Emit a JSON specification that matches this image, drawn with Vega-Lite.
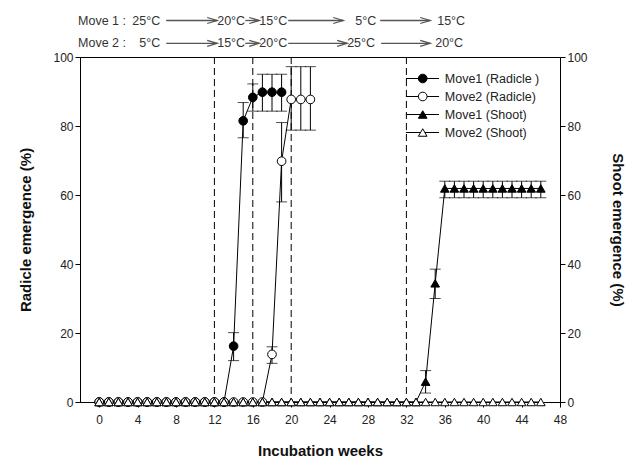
{
  "$schema": "https://vega.github.io/schema/vega-lite/v6.json",
  "width": 480,
  "height": 345,
  "autosize": {"type": "none"},
  "padding": {"left": 80, "top": 57, "right": 73, "bottom": 56},
  "background": "white",
  "config": {
    "view": {"stroke": "black", "strokeWidth": 1},
    "font": "Liberation Sans",
    "axis": {
      "domainColor": "black", "tickColor": "black", "labelColor": "#222",
      "labelFont": "Liberation Sans", "labelFontSize": 12,
      "titleFont": "Liberation Sans", "titleFontSize": 15, "titleFontWeight": "bold",
      "titleColor": "#111", "grid": false, "tickSize": 5, "labelOverlap": false
    }
  },
  "datasets": {
    "pts": [
      {"s":"Move1 (Radicle )","w":0,"v":0},{"s":"Move1 (Radicle )","w":1,"v":0},{"s":"Move1 (Radicle )","w":2,"v":0},{"s":"Move1 (Radicle )","w":3,"v":0},{"s":"Move1 (Radicle )","w":4,"v":0},{"s":"Move1 (Radicle )","w":5,"v":0},{"s":"Move1 (Radicle )","w":6,"v":0},{"s":"Move1 (Radicle )","w":7,"v":0},{"s":"Move1 (Radicle )","w":8,"v":0},{"s":"Move1 (Radicle )","w":9,"v":0},{"s":"Move1 (Radicle )","w":10,"v":0},{"s":"Move1 (Radicle )","w":11,"v":0},{"s":"Move1 (Radicle )","w":12,"v":0},{"s":"Move1 (Radicle )","w":13,"v":0},
      {"s":"Move1 (Radicle )","w":14,"v":16.2,"lo":12.0,"hi":20.1},
      {"s":"Move1 (Radicle )","w":15,"v":81.5,"lo":76.6,"hi":86.8},
      {"s":"Move1 (Radicle )","w":16,"v":88.3,"lo":84.3,"hi":92.2},
      {"s":"Move1 (Radicle )","w":17,"v":89.8,"lo":84.3,"hi":95.0},
      {"s":"Move1 (Radicle )","w":18,"v":89.8,"lo":84.3,"hi":95.0},
      {"s":"Move1 (Radicle )","w":19,"v":89.8,"lo":84.3,"hi":95.0},
      {"s":"Move2 (Radicle)","w":0,"v":0},{"s":"Move2 (Radicle)","w":1,"v":0},{"s":"Move2 (Radicle)","w":2,"v":0},{"s":"Move2 (Radicle)","w":3,"v":0},{"s":"Move2 (Radicle)","w":4,"v":0},{"s":"Move2 (Radicle)","w":5,"v":0},{"s":"Move2 (Radicle)","w":6,"v":0},{"s":"Move2 (Radicle)","w":7,"v":0},{"s":"Move2 (Radicle)","w":8,"v":0},{"s":"Move2 (Radicle)","w":9,"v":0},{"s":"Move2 (Radicle)","w":10,"v":0},{"s":"Move2 (Radicle)","w":11,"v":0},{"s":"Move2 (Radicle)","w":12,"v":0},{"s":"Move2 (Radicle)","w":13,"v":0},{"s":"Move2 (Radicle)","w":14,"v":0},{"s":"Move2 (Radicle)","w":15,"v":0},{"s":"Move2 (Radicle)","w":16,"v":0},{"s":"Move2 (Radicle)","w":17,"v":0},
      {"s":"Move2 (Radicle)","w":18,"v":13.8,"lo":11.2,"hi":16.0},
      {"s":"Move2 (Radicle)","w":19,"v":69.8,"lo":58.0,"hi":81.0},
      {"s":"Move2 (Radicle)","w":20,"v":87.7,"lo":78.8,"hi":97.2},
      {"s":"Move2 (Radicle)","w":21,"v":87.7,"lo":78.8,"hi":97.2},
      {"s":"Move2 (Radicle)","w":22,"v":87.7,"lo":78.8,"hi":97.2},
      {"s":"Move1 (Shoot)","w":0,"v":0},{"s":"Move1 (Shoot)","w":1,"v":0},{"s":"Move1 (Shoot)","w":2,"v":0},{"s":"Move1 (Shoot)","w":3,"v":0},{"s":"Move1 (Shoot)","w":4,"v":0},{"s":"Move1 (Shoot)","w":5,"v":0},{"s":"Move1 (Shoot)","w":6,"v":0},{"s":"Move1 (Shoot)","w":7,"v":0},{"s":"Move1 (Shoot)","w":8,"v":0},{"s":"Move1 (Shoot)","w":9,"v":0},{"s":"Move1 (Shoot)","w":10,"v":0},{"s":"Move1 (Shoot)","w":11,"v":0},{"s":"Move1 (Shoot)","w":12,"v":0},{"s":"Move1 (Shoot)","w":13,"v":0},{"s":"Move1 (Shoot)","w":14,"v":0},{"s":"Move1 (Shoot)","w":15,"v":0},{"s":"Move1 (Shoot)","w":16,"v":0},{"s":"Move1 (Shoot)","w":17,"v":0},{"s":"Move1 (Shoot)","w":18,"v":0},{"s":"Move1 (Shoot)","w":19,"v":0},{"s":"Move1 (Shoot)","w":20,"v":0},{"s":"Move1 (Shoot)","w":21,"v":0},{"s":"Move1 (Shoot)","w":22,"v":0},{"s":"Move1 (Shoot)","w":23,"v":0},{"s":"Move1 (Shoot)","w":24,"v":0},{"s":"Move1 (Shoot)","w":25,"v":0},{"s":"Move1 (Shoot)","w":26,"v":0},{"s":"Move1 (Shoot)","w":27,"v":0},{"s":"Move1 (Shoot)","w":28,"v":0},{"s":"Move1 (Shoot)","w":29,"v":0},{"s":"Move1 (Shoot)","w":30,"v":0},{"s":"Move1 (Shoot)","w":31,"v":0},{"s":"Move1 (Shoot)","w":32,"v":0},{"s":"Move1 (Shoot)","w":33,"v":0},
      {"s":"Move1 (Shoot)","w":34,"v":5.9,"lo":2.6,"hi":9.1},
      {"s":"Move1 (Shoot)","w":35,"v":34.4,"lo":30.0,"hi":38.5},
      {"s":"Move1 (Shoot)","w":36,"v":61.9,"lo":59.2,"hi":64.0},{"s":"Move1 (Shoot)","w":37,"v":61.9,"lo":59.2,"hi":64.0},{"s":"Move1 (Shoot)","w":38,"v":61.9,"lo":59.2,"hi":64.0},{"s":"Move1 (Shoot)","w":39,"v":61.9,"lo":59.2,"hi":64.0},{"s":"Move1 (Shoot)","w":40,"v":61.9,"lo":59.2,"hi":64.0},{"s":"Move1 (Shoot)","w":41,"v":61.9,"lo":59.2,"hi":64.0},{"s":"Move1 (Shoot)","w":42,"v":61.9,"lo":59.2,"hi":64.0},{"s":"Move1 (Shoot)","w":43,"v":61.9,"lo":59.2,"hi":64.0},{"s":"Move1 (Shoot)","w":44,"v":61.9,"lo":59.2,"hi":64.0},{"s":"Move1 (Shoot)","w":45,"v":61.9,"lo":59.2,"hi":64.0},{"s":"Move1 (Shoot)","w":46,"v":61.9,"lo":59.2,"hi":64.0},
      {"s":"Move2 (Shoot)","w":0,"v":0},{"s":"Move2 (Shoot)","w":1,"v":0},{"s":"Move2 (Shoot)","w":2,"v":0},{"s":"Move2 (Shoot)","w":3,"v":0},{"s":"Move2 (Shoot)","w":4,"v":0},{"s":"Move2 (Shoot)","w":5,"v":0},{"s":"Move2 (Shoot)","w":6,"v":0},{"s":"Move2 (Shoot)","w":7,"v":0},{"s":"Move2 (Shoot)","w":8,"v":0},{"s":"Move2 (Shoot)","w":9,"v":0},{"s":"Move2 (Shoot)","w":10,"v":0},{"s":"Move2 (Shoot)","w":11,"v":0},{"s":"Move2 (Shoot)","w":12,"v":0},{"s":"Move2 (Shoot)","w":13,"v":0},{"s":"Move2 (Shoot)","w":14,"v":0},{"s":"Move2 (Shoot)","w":15,"v":0},{"s":"Move2 (Shoot)","w":16,"v":0},{"s":"Move2 (Shoot)","w":17,"v":0},{"s":"Move2 (Shoot)","w":18,"v":0},{"s":"Move2 (Shoot)","w":19,"v":0},{"s":"Move2 (Shoot)","w":20,"v":0},{"s":"Move2 (Shoot)","w":21,"v":0},{"s":"Move2 (Shoot)","w":22,"v":0},{"s":"Move2 (Shoot)","w":23,"v":0},{"s":"Move2 (Shoot)","w":24,"v":0},{"s":"Move2 (Shoot)","w":25,"v":0},{"s":"Move2 (Shoot)","w":26,"v":0},{"s":"Move2 (Shoot)","w":27,"v":0},{"s":"Move2 (Shoot)","w":28,"v":0},{"s":"Move2 (Shoot)","w":29,"v":0},{"s":"Move2 (Shoot)","w":30,"v":0},{"s":"Move2 (Shoot)","w":31,"v":0},{"s":"Move2 (Shoot)","w":32,"v":0},{"s":"Move2 (Shoot)","w":33,"v":0},{"s":"Move2 (Shoot)","w":34,"v":0},{"s":"Move2 (Shoot)","w":35,"v":0},{"s":"Move2 (Shoot)","w":36,"v":0},{"s":"Move2 (Shoot)","w":37,"v":0},{"s":"Move2 (Shoot)","w":38,"v":0},{"s":"Move2 (Shoot)","w":39,"v":0},{"s":"Move2 (Shoot)","w":40,"v":0},{"s":"Move2 (Shoot)","w":41,"v":0},{"s":"Move2 (Shoot)","w":42,"v":0},{"s":"Move2 (Shoot)","w":43,"v":0},{"s":"Move2 (Shoot)","w":44,"v":0},{"s":"Move2 (Shoot)","w":45,"v":0},{"s":"Move2 (Shoot)","w":46,"v":0}
    ],
    "series": [
      {"s": "Move1 (Radicle )"},
      {"s": "Move2 (Radicle)"},
      {"s": "Move1 (Shoot)"},
      {"s": "Move2 (Shoot)"}
    ],
    "vlines": [{"w": 12}, {"w": 16}, {"w": 20}, {"w": 32}],
    "ann": [
      {"move": "Move 1", "t": "Move 1 :", "w": -2.2},
      {"move": "Move 1", "t": "25°C", "w": 3.44},
      {"move": "Move 1", "t": "20°C", "w": 12.29},
      {"move": "Move 1", "t": "15°C", "w": 16.67},
      {"move": "Move 1", "t": "5°C", "w": 26.67},
      {"move": "Move 1", "t": "15°C", "w": 35.21},
      {"move": "Move 2", "t": "Move 2 :", "w": -2.2},
      {"move": "Move 2", "t": "5°C", "w": 4.17},
      {"move": "Move 2", "t": "15°C", "w": 12.29},
      {"move": "Move 2", "t": "20°C", "w": 16.67},
      {"move": "Move 2", "t": "25°C", "w": 25.83},
      {"move": "Move 2", "t": "20°C", "w": 35.0}
    ],
    "arr": [
      {"move": "Move 1", "a": 6.98, "b": 12.29},
      {"move": "Move 1", "a": 15.21, "b": 16.67},
      {"move": "Move 1", "a": 19.69, "b": 25.42},
      {"move": "Move 1", "a": 29.27, "b": 34.48},
      {"move": "Move 2", "a": 6.98, "b": 12.29},
      {"move": "Move 2", "a": 15.21, "b": 16.67},
      {"move": "Move 2", "a": 19.69, "b": 25.83},
      {"move": "Move 2", "a": 29.37, "b": 34.48}
    ]
  },
  "layer": [
    {
      "layer": [
        {
          "data": {"name": "vlines"},
          "mark": {"type": "rule", "color": "black", "strokeWidth": 1, "strokeDash": [7, 4]},
          "encoding": {
            "x": {"field": "w", "type": "quantitative",
              "scale": {"domain": [-2, 48], "nice": false, "zero": false},
              "axis": {"values": [0,4,8,12,16,20,24,28,32,36,40,44,48], "labelOverlap": false, "labelFlush": false, "title": "Incubation weeks", "titlePadding": 18, "labelPadding": 7}}
          }
        },
        {
          "data": {"name": "pts"},
          "transform": [{"filter": "isValid(datum.lo)"}],
          "mark": {"type": "rule", "color": "black", "strokeWidth": 1},
          "encoding": {
            "x": {"field": "w", "type": "quantitative", "axis": {"values": [0,4,8,12,16,20,24,28,32,36,40,44,48], "labelOverlap": false, "labelFlush": false, "title": "Incubation weeks", "titlePadding": 18, "labelPadding": 7}},
            "y": {"field": "lo", "type": "quantitative",
              "scale": {"domain": [0, 100], "nice": false, "zero": false},
              "axis": {"values": [0,20,40,60,80,100], "title": "Radicle emergence (%)", "titlePadding": 19}},
            "y2": {"field": "hi"}
          }
        },
        {
          "data": {"name": "pts"},
          "transform": [{"filter": "isValid(datum.lo)"}],
          "mark": {"type": "tick", "orient": "horizontal", "size": 11, "thickness": 1, "color": "black"},
          "encoding": {
            "x": {"field": "w", "type": "quantitative", "axis": {"values": [0,4,8,12,16,20,24,28,32,36,40,44,48], "labelOverlap": false, "labelFlush": false, "title": "Incubation weeks", "titlePadding": 18, "labelPadding": 7}},
            "y": {"field": "lo", "type": "quantitative"}
          }
        },
        {
          "data": {"name": "pts"},
          "transform": [{"filter": "isValid(datum.hi)"}],
          "mark": {"type": "tick", "orient": "horizontal", "size": 11, "thickness": 1, "color": "black"},
          "encoding": {
            "x": {"field": "w", "type": "quantitative", "axis": {"values": [0,4,8,12,16,20,24,28,32,36,40,44,48], "labelOverlap": false, "labelFlush": false, "title": "Incubation weeks", "titlePadding": 18, "labelPadding": 7}},
            "y": {"field": "hi", "type": "quantitative"}
          }
        },
        {
          "data": {"name": "pts"},
          "mark": {"type": "line", "color": "black", "strokeWidth": 1},
          "encoding": {
            "x": {"field": "w", "type": "quantitative", "axis": {"values": [0,4,8,12,16,20,24,28,32,36,40,44,48], "labelOverlap": false, "labelFlush": false, "title": "Incubation weeks", "titlePadding": 18, "labelPadding": 7}},
            "y": {"field": "v", "type": "quantitative"},
            "detail": {"field": "s"}
          }
        }
      ]
    },
    {
      "data": {"name": "pts"},
      "mark": {"type": "point", "size": 75, "stroke": "black", "strokeWidth": 1, "opacity": 1},
      "encoding": {
        "x": {"field": "w", "type": "quantitative", "axis": {"values": [0,4,8,12,16,20,24,28,32,36,40,44,48], "labelOverlap": false, "labelFlush": false, "title": "Incubation weeks", "titlePadding": 18, "labelPadding": 7}},
        "y": {"field": "v", "type": "quantitative",
          "scale": {"domain": [0, 100], "nice": false, "zero": false},
          "axis": {"orient": "right", "values": [0,20,40,60,80,100], "title": "Shoot emergence (%)", "titlePadding": 22}},
        "shape": {"field": "s", "type": "nominal",
          "scale": {"domain": ["Move1 (Radicle )", "Move2 (Radicle)", "Move1 (Shoot)", "Move2 (Shoot)"], "range": ["circle", "circle", "triangle-up", "triangle-up"]},
          "legend": null},
        "fill": {"field": "s", "type": "nominal",
          "scale": {"domain": ["Move1 (Radicle )", "Move2 (Radicle)", "Move1 (Shoot)", "Move2 (Shoot)"], "range": ["black", "white", "black", "white"]},
          "legend": null}
      }
    },
    {
      "layer": [
        {
          "data": {"name": "ann"},
          "mark": {"type": "text", "align": "left", "baseline": "middle", "font": "Liberation Sans", "fontSize": 12.5, "color": "#333"},
          "encoding": {
            "x": {"field": "w", "type": "quantitative", "axis": {"values": [0,4,8,12,16,20,24,28,32,36,40,44,48], "labelOverlap": false, "labelFlush": false, "title": "Incubation weeks", "titlePadding": 18, "labelPadding": 7}},
            "y": {"field": "move", "type": "nominal", "scale": {"type": "point", "domain": ["Move 1", "Move 2"], "range": [-36.5, -13.7], "padding": 0}, "axis": null},
            "text": {"field": "t"}
          }
        },
        {
          "data": {"name": "arr"},
          "mark": {"type": "rule", "color": "#555", "strokeWidth": 1.3},
          "encoding": {
            "x": {"field": "a", "type": "quantitative", "axis": {"values": [0,4,8,12,16,20,24,28,32,36,40,44,48], "labelOverlap": false, "labelFlush": false, "title": "Incubation weeks", "titlePadding": 18, "labelPadding": 7}},
            "x2": {"field": "b"},
            "y": {"field": "move", "type": "nominal"}
          }
        },
        {
          "data": {"name": "arr"},
          "mark": {"type": "point", "shape": "M-1,-0.3L0,0L-1,0.3", "size": 400, "filled": false, "color": "#555", "strokeWidth": 1.3, "opacity": 1},
          "encoding": {
            "x": {"field": "b", "type": "quantitative", "axis": {"values": [0,4,8,12,16,20,24,28,32,36,40,44,48], "labelOverlap": false, "labelFlush": false, "title": "Incubation weeks", "titlePadding": 18, "labelPadding": 7}},
            "y": {"field": "move", "type": "nominal"}
          }
        }
      ]
    },
    {
      "layer": [
        {
          "data": {"name": "series"},
          "mark": {"type": "rule", "color": "black", "strokeWidth": 1},
          "encoding": {
            "x": {"datum": 31.95, "type": "quantitative", "axis": {"values": [0,4,8,12,16,20,24,28,32,36,40,44,48], "labelOverlap": false, "labelFlush": false, "title": "Incubation weeks", "titlePadding": 18, "labelPadding": 7}},
            "x2": {"datum": 35.4},
            "y": {"field": "s", "type": "nominal", "scale": {"type": "point", "domain": ["Move1 (Radicle )", "Move2 (Radicle)", "Move1 (Shoot)", "Move2 (Shoot)"], "range": [21.5, 75.5], "padding": 0}, "axis": null}
          }
        },
        {
          "data": {"name": "series"},
          "mark": {"type": "point", "size": 75, "stroke": "black", "strokeWidth": 1, "opacity": 1},
          "encoding": {
            "x": {"datum": 33.7, "type": "quantitative", "axis": {"values": [0,4,8,12,16,20,24,28,32,36,40,44,48], "labelOverlap": false, "labelFlush": false, "title": "Incubation weeks", "titlePadding": 18, "labelPadding": 7}},
            "y": {"field": "s", "type": "nominal"},
            "shape": {"field": "s", "type": "nominal", "legend": null},
            "fill": {"field": "s", "type": "nominal", "legend": null}
          }
        },
        {
          "data": {"name": "series"},
          "mark": {"type": "text", "align": "left", "baseline": "middle", "font": "Liberation Sans", "fontSize": 12.5, "color": "#222"},
          "encoding": {
            "x": {"datum": 36.0, "type": "quantitative", "axis": {"values": [0,4,8,12,16,20,24,28,32,36,40,44,48], "labelOverlap": false, "labelFlush": false, "title": "Incubation weeks", "titlePadding": 18, "labelPadding": 7}},
            "y": {"field": "s", "type": "nominal"},
            "text": {"field": "s"}
          }
        }
      ]
    }
  ],
  "resolve": {"scale": {"y": "independent"}}
}
